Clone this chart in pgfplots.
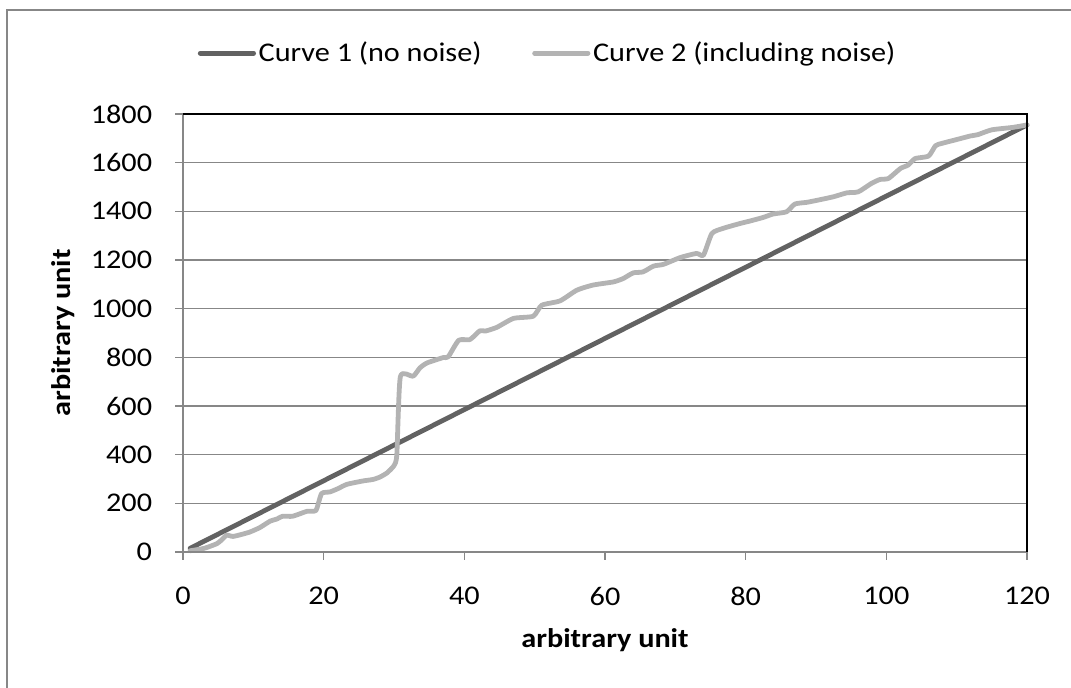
\documentclass[border=0pt]{standalone}
\usepackage{fontspec}
\setmainfont{Carlito}[FakeStretch=1.12]
\usepackage{pgfplots}
\pgfplotsset{compat=1.18}
\definecolor{cdark}{HTML}{626262}
\definecolor{clight}{HTML}{B3B3B3}
\definecolor{cgrid}{HTML}{878787}
\begin{document}
\begin{tikzpicture}[font=\fontsize{20.25}{24}\selectfont]
\useasboundingbox (0,0) rectangle (803.25pt,516pt);
\draw[cgrid, line width=1.2pt] (5.25pt,0pt) -- (5.25pt,508.5pt) -- (803.25pt,508.5pt);
\begin{axis}[
  at={(137.25pt,102pt)}, anchor=south west,
  scale only axis, width=633pt, height=328.5pt,
  xmin=0, xmax=120, ymin=0, ymax=1800,
  xtick={0,20,...,120}, ytick={0,200,...,1800},
  xtick pos=left, ytick pos=left,
  tick align=outside, major tick length=6pt,
  tick style={cgrid, line width=1pt},
  axis line style={draw=none},
  ymajorgrids, major grid style={cgrid, line width=1pt},
  /pgf/number format/assume math mode=true,
  /pgf/number format/1000 sep={},
  yticklabel style={anchor=east, inner sep=0pt, xshift=-17pt},
  xticklabel style={anchor=north, inner sep=0pt, yshift=-20pt},
  xlabel={\bfseries arbitrary unit},
  ylabel={\bfseries arbitrary unit},
  xlabel style={at={(0.5,-0.2009)}, anchor=center},
  ylabel style={at={(-0.1422,0.5)}, anchor=center},
  legend style={at={(0.4325,1.139)}, anchor=center, draw=none, fill=none,
    legend columns=2, /tikz/every even column/.append style={column sep=36pt},
    nodes={inner sep=2pt}},
  legend image code/.code={\draw[#1] (0pt,0pt) -- (40pt,0pt);},
  clip=false,
]
\addplot[cdark, line width=3.6pt, line cap=round] coordinates {(1,15) (120,1755)};
\addlegendentry{Curve 1 (no noise)}
\addplot[clight, line width=3.6pt, line join=round, line cap=round, smooth, tension=0.35] coordinates {
(1,5) (3,15) (4.8,34) (5.5,50) (6.2,69) (7.1,64) (8.3,72) (9.5,82) (10.9,100) (12.4,127) (13.3,135) (14.2,147) (15.6,147) (17.6,167) (18.9,171) (19.7,240) (20.9,247) (22,260) (23.3,278) (25.6,292) (27,298) (28,308) (29,325) (30,355) (30.4,400) (30.9,720) (32.7,722) (33.7,757) (34.7,777) (37,799) (37.7,802) (39.2,870) (40.8,873) (42.2,909) (43,908) (44.6,923) (47,960) (49.8,969) (51,1014) (53.6,1032) (56,1076) (58.3,1097) (61.2,1110) (62.6,1124) (64,1147) (65.4,1151) (66.9,1175) (68.3,1182) (70.7,1210) (73,1227) (74,1220) (75.2,1309) (76.8,1330) (79.2,1350) (80.6,1360) (82.5,1375) (83.9,1389) (85.8,1398) (87,1430) (88.7,1437) (90.6,1448) (92.5,1460) (94.4,1476) (96,1480) (97.9,1515) (99.1,1531) (100.3,1535) (102,1576) (103.1,1590) (104.1,1617) (106,1627) (107,1670) (108,1680) (110,1695) (112,1710) (113,1715) (115,1735) (118,1745) (120,1755)};
\addlegendentry{Curve 2 (including noise)}
\draw[cgrid, line width=1pt] (rel axis cs:0,1) -- (rel axis cs:0,0) -- (rel axis cs:1,0);
\draw[black, line width=1.4pt] (rel axis cs:0,1) -- (rel axis cs:1,1) -- (rel axis cs:1,0);
\end{axis}
\end{tikzpicture}
\end{document}
